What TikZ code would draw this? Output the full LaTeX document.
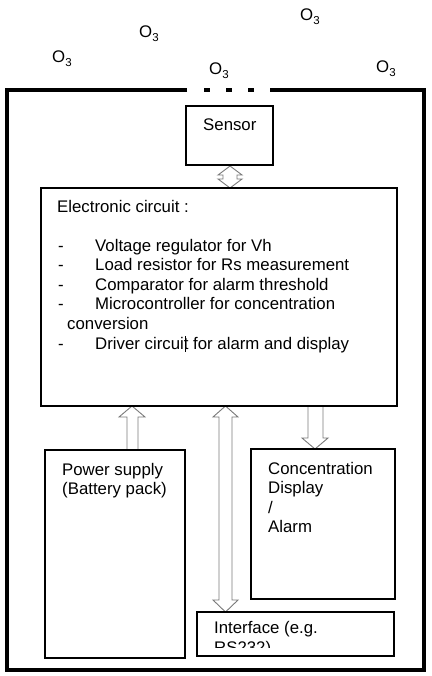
\documentclass[tikz,border=0pt]{standalone}
\usepackage{fontspec}
\setmainfont{Liberation Sans}
\definecolor{arrgray}{HTML}{7A7A7A}
\begin{document}
\begin{tikzpicture}[x=1pt,y=-1pt,
  txt/.style={anchor=base west,inner sep=0pt,font=\fontsize{16.8}{20}\selectfont},
  ozone/.style={anchor=base west,inner sep=0pt,font=\fontsize{16.8}{20}\selectfont},
  blk/.style={draw=black,line width=1.2pt,fill=none},
  outer/.style={draw=black,line width=4pt},
  fatarrow/.style={draw=arrgray,line width=0.9pt,fill=white,line join=miter}]
\useasboundingbox (0,0) rectangle (431,676);
\newcommand{\othree}{O\raisebox{-4pt}{\fontsize{11.5}{11.5}\selectfont 3}}
% ozone labels
\node[ozone] (o1) at (52,63) {\othree};
\node[ozone] (o2) at (139,38) {\othree};
\node[ozone] (o3) at (300,21) {\othree};
\node[ozone] (o4) at (209,75) {\othree};
\node[ozone] (o5) at (376,73) {\othree};
% outer housing
\draw[outer] (187,90) -- (7,90) -- (7,670) -- (424,670) -- (424,90) -- (270,90);
\draw[outer] (204,90) -- (210,90);
\draw[outer] (226,90) -- (232,90);
\draw[outer] (248,90) -- (254,90);
% arrows (drawn before boxes)
\draw[fatarrow] (223,175) -- (218,175) -- (230,166) -- (242,175) -- (237,175) -- (237,179) -- (242,179) -- (230,188) -- (218,179) -- (223,179) -- cycle;
\draw[fatarrow] (127,450) -- (127,417) -- (119,417) -- (132,406) -- (145,417) -- (138,417) -- (138,450);
\draw[fatarrow] (219,417) -- (213,417) -- (225.5,406) -- (238,417) -- (232,417) -- (232,600) -- (238,600) -- (225.5,612) -- (213,600) -- (219,600) -- cycle;
\draw[fatarrow] (308,406) -- (308,438) -- (302,438) -- (315,449) -- (328,438) -- (323,438) -- (323,406);
% boxes
\draw[blk] (186,106) rectangle (273,165);
\node[txt] (sensor) at (203,131) {Sensor};
\draw[blk] (41,188) rectangle (397,406);
\node[txt] (ec) at (57,212) {Electronic circuit :};
\node[txt] (d1) at (58,251) {-};
\node[txt] (l1) at (95,251) {Voltage regulator for Vh};
\node[txt] (d2) at (58,270.6) {-};
\node[txt] (l2) at (95,270.6) {Load resistor for Rs measurement};
\node[txt] (d3) at (58,290.2) {-};
\node[txt] (l3) at (95,290.2) {Comparator for alarm threshold};
\node[txt] (d4) at (58,309.8) {-};
\node[txt] (l4) at (95,309.8) {Microcontroller for concentration};
\node[txt] (l4b) at (67,329.4) {conversion};
\node[txt] (d5) at (58,349) {-};
\node[txt] (l5) at (95,349) {Driver circuit for alarm and display};
\draw[black,line width=0.8pt] (185,336) -- (185,352);
\draw[blk] (45,450) rectangle (185,658);
\node[txt] (ps1) at (62,475) {Power supply};
\node[txt] (ps2) at (62,494) {(Battery pack)};
\draw[blk] (251,449) rectangle (395,599);
\node[txt] (c1) at (268,474) {Concentration};
\node[txt] (c2) at (268,493.5) {Display};
\node[txt] (c3) at (268,513) {/};
\node[txt] (c4) at (268,532) {Alarm};
\draw[blk] (197,612) rectangle (394,656);
\begin{scope}
\clip (197,612) rectangle (394,647);
\node[txt] (if1) at (214,633) {Interface (e.g.};
\node[txt] (if2) at (214,653) {RS232)};
\end{scope}
\end{tikzpicture}
\end{document}
